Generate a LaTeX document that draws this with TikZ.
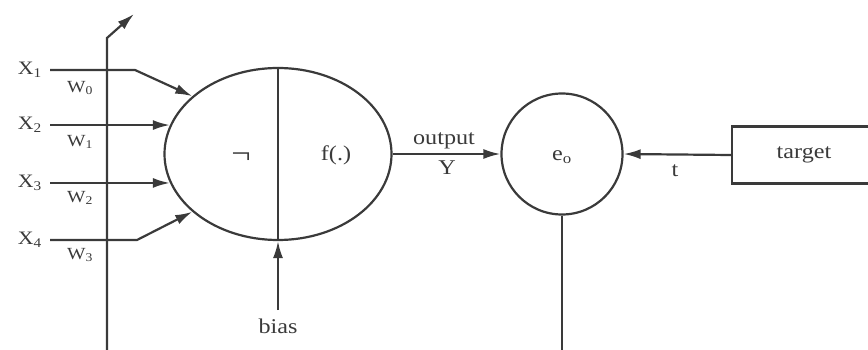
\documentclass[tikz,border=0pt]{standalone}
\usepackage{fontspec}
\setmainfont{Liberation Serif}[FakeStretch=1.15]
\usetikzlibrary{shapes.geometric,arrows.meta}
\definecolor{ink}{HTML}{3A3A3A}
\tikzset{
  wire/.style={draw=ink,line width=2.2pt},
  arr/.style={wire,-{Latex[length=17pt,width=10pt]}},
  lbl/.style={text=ink,inner sep=0pt,font=\fontsize{21}{24}\selectfont},
  xlbl/.style={text=ink,inner sep=0pt,font=\fontsize{19}{21}\selectfont},
  wlbl/.style={text=ink,inner sep=0pt,font=\fontsize{17}{19}\selectfont}
}
\begin{document}
\begin{tikzpicture}[x=1pt,y=-1pt]
\useasboundingbox (0,0) rectangle (868,350);
% neuron ellipse
\node[ellipse,wire,minimum width=227pt,minimum height=172pt,inner sep=0pt] (neu) at (278,154) {};
\draw[wire] (neu.north) -- (neu.south);
\node[text=ink,inner sep=0pt,font=\fontsize{30}{32}\selectfont] (neg) at (241,158) {¬};
\node[lbl] (fdot) at (336,155) {f(.)};
% error circle
\node[circle,wire,minimum size=121pt,inner sep=0pt] (eo) at (562,154) {};
\node[lbl] (eotxt) at (562,157) {e\textsubscript{o}};
% target box
\node[rectangle,wire,minimum width=160pt,minimum height=57pt,inner sep=0pt,anchor=west] (tgt) at (731,155) {};
\node[lbl] (tgttxt) at (804,155) {target};
% feedback line at left
\coordinate (fb0) at (107,352);
\coordinate (fb1) at (107,38);
\coordinate (fb2) at (134,14);
\draw[arr] (fb0) -- (fb1) -- (fb2);
% inputs
\coordinate (x1s) at (50,70);
\coordinate (x1k) at (135,70);
\draw[arr] (x1s) -- (x1k) -- (neu.146);
\coordinate (x2s) at (50,0);
\draw[arr] (neu.165 -| x2s) coordinate (x2a) -- (neu.165);
\coordinate (x3s) at (50,0);
\draw[arr] (neu.195 -| x3s) coordinate (x3a) -- (neu.195);
\coordinate (x4s) at (50,240);
\coordinate (x4k) at (137,240);
\draw[arr] (x4s) -- (x4k) -- (neu.214);
% input labels
\node[xlbl,anchor=east] (lx1) at ([xshift=-8pt]x1s) {X\textsubscript{1}};
\node[xlbl,anchor=east] (lx2) at ([xshift=-8pt]x2a) {X\textsubscript{2}};
\node[xlbl,anchor=east] (lx3) at ([xshift=-8pt]x3a) {X\textsubscript{3}};
\node[xlbl,anchor=east] (lx4) at ([xshift=-8pt]x4s) {X\textsubscript{4}};
\node[wlbl] (lw0) at (80,88) {W\textsubscript{0}};
\node[wlbl] (lw1) at (80,142) {W\textsubscript{1}};
\node[wlbl] (lw2) at (80,198) {W\textsubscript{2}};
\node[wlbl] (lw3) at (80,255) {W\textsubscript{3}};
% bias
\coordinate (bs) at (278,310);
\draw[arr] (bs) -- (neu.south);
\node[lbl] (bias) at (278,326) {bias};
% output
\draw[arr] (neu.east) -- (eo.west);
\node[lbl] (outl) at (444,141) {output};
\node[lbl] (yl) at (447,168) {Y};
% target to circle
\draw[arr] (tgt.west) -- (eo.east);
\node[lbl] (tl) at (675,171) {t};
% bottom line from circle
\coordinate (eb) at (562,352);
\draw[wire] (eo.south) -- (eb);
\end{tikzpicture}
\end{document}
